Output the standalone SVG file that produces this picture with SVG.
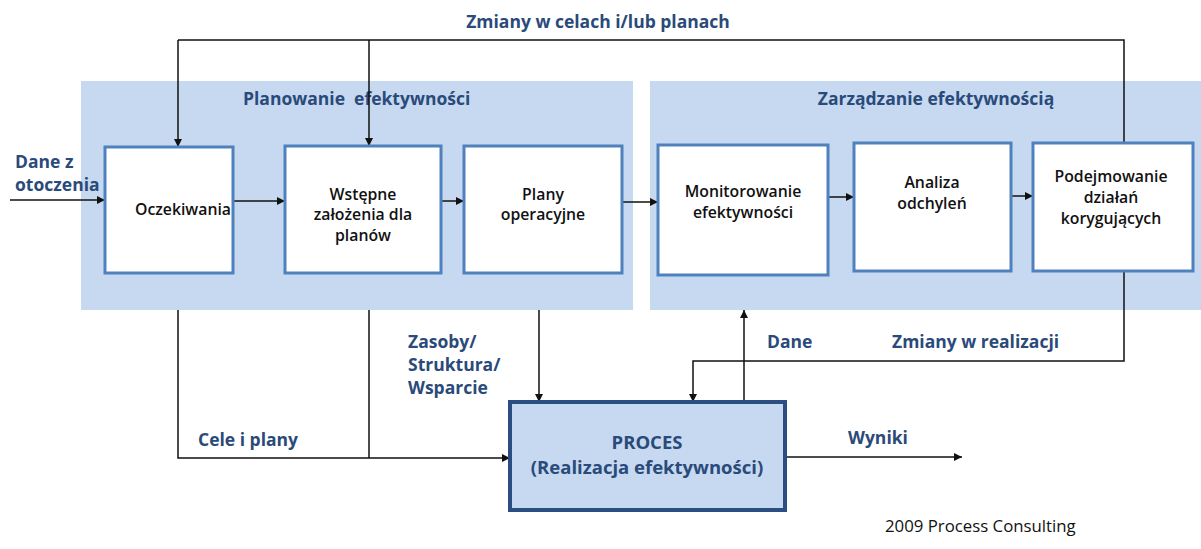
<svg xmlns="http://www.w3.org/2000/svg" width="1201" height="549" viewBox="0 0 1201 549">
<style>
.panel{fill:#C6D9F0}
.box{fill:#fff;stroke:#4F81BD;stroke-width:3}
.proc{fill:#C6D9F0;stroke:#2A4E82;stroke-width:4}
.lbl{font-family:"Open Sans","Liberation Sans",sans-serif;font-weight:bold;font-size:17.5px;fill:#2A4A7A}
.bt{font-family:"Open Sans","Liberation Sans",sans-serif;font-weight:600;font-size:15.8px;fill:#111;text-anchor:middle}
.pt{font-family:"Open Sans","Liberation Sans",sans-serif;font-weight:bold;font-size:18.5px;fill:#2A4A7A;text-anchor:middle}
.ln{fill:none;stroke:#111;stroke-width:1.5}
.ft{font-family:"Open Sans","Liberation Sans",sans-serif;font-size:16.8px;fill:#111}
</style>
<defs>
<marker id="ah" viewBox="0 0 10 10" refX="10" refY="5" markerWidth="8" markerHeight="8" markerUnits="userSpaceOnUse" orient="auto">
<path d="M0,0 L10,5 L0,10 Z" fill="#111"/>
</marker>
</defs>
<rect width="1201" height="549" fill="#fff"/>
<g id="panels">
<rect class="panel" x="81" y="81" width="552" height="229"/>
<rect class="panel" x="650" y="81" width="551" height="229"/>
<text class="lbl" x="243" y="105" xml:space="preserve">Planowanie  efektywności</text>
<text class="lbl" x="936" y="105" text-anchor="middle">Zarządzanie efektywnością</text>
</g>
<g id="connectors">
<path class="ln" d="M178,40 H1124 V143"/>
<path class="ln" d="M178,40 V147" marker-end="url(#ah)"/>
<path class="ln" d="M369,40 V146" marker-end="url(#ah)"/>
<path class="ln" d="M10,200 H105" marker-end="url(#ah)"/>
<path class="ln" d="M233,201 H285" marker-end="url(#ah)"/>
<path class="ln" d="M441,201 H464" marker-end="url(#ah)"/>
<path class="ln" d="M622,202 H658" marker-end="url(#ah)"/>
<path class="ln" d="M828,197 H854" marker-end="url(#ah)"/>
<path class="ln" d="M1011,196 H1033" marker-end="url(#ah)"/>
<path class="ln" d="M178,310 V458 H510" marker-end="url(#ah)"/>
<path class="ln" d="M369,310 V458"/>
<path class="ln" d="M539,310 V402" marker-end="url(#ah)"/>
<path class="ln" d="M744,402 V310" marker-end="url(#ah)"/>
<path class="ln" d="M1124,271 V361 H693 V402" marker-end="url(#ah)"/>
<path class="ln" d="M785,457 H962" marker-end="url(#ah)"/>
</g>
<g id="labels">
<text class="lbl" x="598" y="28" text-anchor="middle">Zmiany w celach i/lub planach</text>
<text class="lbl" x="15" y="168">Dane z</text>
<text class="lbl" x="15" y="191">otoczenia</text>
<text class="lbl" x="408" y="348">Zasoby/</text>
<text class="lbl" x="408" y="371">Struktura/</text>
<text class="lbl" x="408" y="394">Wsparcie</text>
<text class="lbl" x="198" y="446">Cele i plany</text>
<text class="lbl" x="767" y="348">Dane</text>
<text class="lbl" x="892" y="348">Zmiany w realizacji</text>
<text class="lbl" x="848" y="444">Wyniki</text>
<text class="ft" x="885" y="532">2009 Process Consulting</text>
</g>
<g id="n-oczekiwania">
<rect class="box" x="105" y="147" width="128" height="126"/>
<text class="bt" x="183" y="215">Oczekiwania</text>
</g>
<g id="n-wstepne">
<rect class="box" x="285" y="146" width="156" height="127"/>
<text class="bt" x="363" y="200">Wstępne</text>
<text class="bt" x="363" y="220">założenia dla</text>
<text class="bt" x="363" y="241">planów</text>
</g>
<g id="n-plany">
<rect class="box" x="464" y="146" width="158" height="127"/>
<text class="bt" x="543" y="200">Plany</text>
<text class="bt" x="543" y="220">operacyjne</text>
</g>
<g id="n-monitorowanie">
<rect class="box" x="658" y="145" width="170" height="130"/>
<text class="bt" x="743" y="197">Monitorowanie</text>
<text class="bt" x="743" y="218">efektywności</text>
</g>
<g id="n-analiza">
<rect class="box" x="854" y="143" width="157" height="128"/>
<text class="bt" x="932" y="188">Analiza</text>
<text class="bt" x="932" y="209">odchyleń</text>
</g>
<g id="n-podejmowanie">
<rect class="box" x="1033" y="143" width="160" height="128"/>
<text class="bt" x="1111" y="182">Podejmowanie</text>
<text class="bt" x="1111" y="203">działań</text>
<text class="bt" x="1111" y="224">korygujących</text>
</g>
<g id="n-proces">
<rect class="proc" x="510" y="402" width="275" height="108"/>
<text class="pt" x="647" y="449">PROCES</text>
<text class="pt" x="647" y="474">(Realizacja efektywności)</text>
</g>
</svg>
